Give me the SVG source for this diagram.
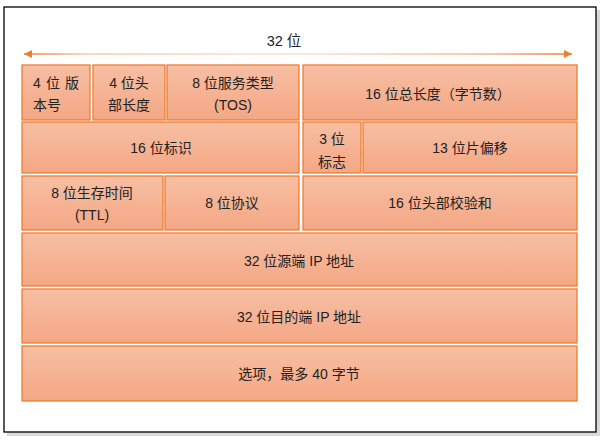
<svg xmlns="http://www.w3.org/2000/svg" width="614" height="442" viewBox="0 0 614 442">
<defs>
<linearGradient id="fillG" x1="0" y1="0" x2="0" y2="1">
<stop offset="0" stop-color="#F7BFA4"/>
<stop offset="1" stop-color="#F4A784"/>
</linearGradient>
<linearGradient id="lineG" x1="23" y1="0" x2="573" y2="0" gradientUnits="userSpaceOnUse">
<stop offset="0" stop-color="#ED7D31"/>
<stop offset="0.12" stop-color="#F8CBAD"/>
<stop offset="0.5" stop-color="#FBE3D3"/>
<stop offset="0.85" stop-color="#F6B58C"/>
<stop offset="1" stop-color="#ED7D31"/>
</linearGradient>
<marker id="ah" viewBox="0 0 10 10" refX="10" refY="5" markerWidth="8" markerHeight="8" orient="auto-start-reverse" markerUnits="userSpaceOnUse">
<path d="M0,0 L10,5 L0,10 z" fill="#ED7D31"/>
</marker>
<style>
.b{fill:url(#fillG);stroke:#ED7D31;stroke-width:1.3}
.t{font-family:"Liberation Sans","Noto Sans CJK SC",sans-serif;font-size:14px;fill:#222;text-anchor:middle}
.l{text-anchor:start}
</style>
</defs>
<rect x="0" y="0" width="614" height="442" fill="#fff"/>
<rect x="7" y="10" width="593" height="426" fill="#d9d9d9"/>
<rect x="4" y="7" width="592" height="425" fill="#fff" stroke="#000" stroke-width="1.3"/>
<g id="connectors">
<line x1="24" y1="54" x2="572" y2="54" stroke="url(#lineG)" stroke-width="1.5" marker-start="url(#ah)" marker-end="url(#ah)"/>
</g>
<g id="title"><text class="t" x="284" y="46" style="font-size:14.5px">32 位</text></g>
<g id="n-version"><rect class="b" x="22" y="65" width="68" height="55"/><text class="t l" x="33" y="88" textLength="46" lengthAdjust="spacing">4 位 版</text><text class="t l" x="33" y="110">本号</text></g>
<g id="n-ihl"><rect class="b" x="93" y="65" width="72" height="55"/><text class="t" x="129" y="88">4 位头</text><text class="t" x="129" y="110">部长度</text></g>
<g id="n-tos"><rect class="b" x="167" y="65" width="132" height="55"/><text class="t" x="233" y="88">8 位服务类型</text><text class="t" x="233" y="110">(TOS)</text></g>
<g id="n-len"><rect class="b" x="303" y="65" width="274" height="55"/><text class="t" x="438" y="99">16 位总长度（字节数）</text></g>
<g id="n-id"><rect class="b" x="22" y="122" width="277" height="51"/><text class="t" x="161" y="153">16 位标识</text></g>
<g id="n-flags"><rect class="b" x="303" y="122" width="58" height="51"/><text class="t" x="332" y="144">3 位</text><text class="t" x="332" y="167">标志</text></g>
<g id="n-frag"><rect class="b" x="363" y="122" width="214" height="51"/><text class="t" x="470" y="153">13 位片偏移</text></g>
<g id="n-ttl"><rect class="b" x="22" y="176" width="141" height="54"/><text class="t" x="92" y="198">8 位生存时间</text><text class="t" x="92" y="220">(TTL)</text></g>
<g id="n-proto"><rect class="b" x="165" y="176" width="134" height="54"/><text class="t" x="232" y="208">8 位协议</text></g>
<g id="n-cksum"><rect class="b" x="303" y="176" width="274" height="54"/><text class="t" x="440" y="208">16 位头部校验和</text></g>
<g id="n-src"><rect class="b" x="22" y="233" width="555" height="53"/><text class="t" x="299" y="266">32 位源端 IP 地址</text></g>
<g id="n-dst"><rect class="b" x="22" y="289" width="555" height="54"/><text class="t" x="299" y="322">32 位目的端 IP 地址</text></g>
<g id="n-opt"><rect class="b" x="22" y="346" width="555" height="55"/><text class="t" x="299" y="379">选项，最多 40 字节</text></g>
</svg>
